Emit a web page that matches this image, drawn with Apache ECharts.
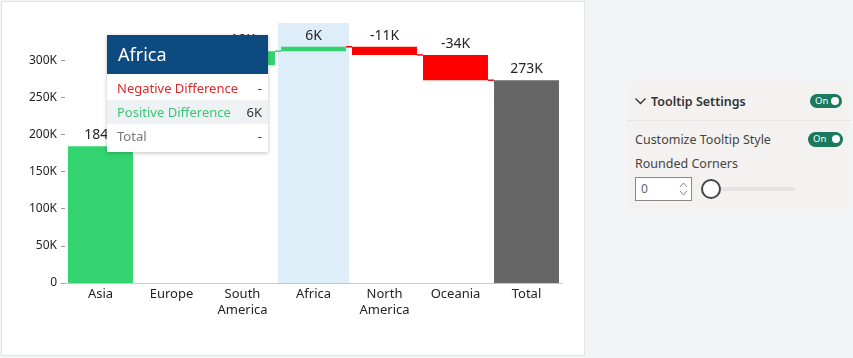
<!DOCTYPE html>
<html><head><meta charset="utf-8">
<script src="https://cdn.jsdelivr.net/npm/echarts@6/dist/echarts.min.js"></script>
<style>
html,body{margin:0;padding:0;width:853px;height:358px;overflow:hidden;background:#f3f4f7;font-family:"Segoe UI","Noto Sans",sans-serif;}
#card{position:absolute;left:1px;top:1px;width:582px;height:353px;background:#fff;border:1px solid #e3e3e3;}
#chart{position:absolute;left:0;top:0;width:582px;height:353px;}
#tip{position:absolute;left:105px;top:33px;width:161px;height:117px;background:#fff;box-shadow:0 1px 4px rgba(0,0,0,0.25);font-size:13px;}
#tip .hd{height:39px;background:#0c4a80;color:#fff;font-size:18px;line-height:39px;padding-left:11px;}
#tip .row{height:24px;line-height:24px;padding:0 6px 0 10px;display:flex;justify-content:space-between;}
#tip .row.alt{background:#eef2f5;}
#panel{position:absolute;left:627px;top:81px;width:223px;height:129px;background:#f3f2f1;font-size:12.5px;color:#333;}
#panel .hdr{height:39px;border-bottom:1px solid #e8e6e4;position:relative;}
.tog{position:absolute;width:32px;height:14px;border-radius:8px;background:#1b7a5e;color:#fff;font-size:9.5px;line-height:14px;padding-left:5px;box-sizing:border-box;}
.tog:after{content:"";position:absolute;right:3px;top:3px;width:8px;height:8px;border-radius:50%;background:#fff;}
</style></head>
<body>
<div id="card"><div id="chart"></div>
<div id="tip">
  <div class="hd">Africa</div>
  <div class="row" style="margin-top:2px"><span style="color:#e0282c">Negative Difference</span><span style="color:#333">-</span></div>
  <div class="row alt"><span style="color:#3cc476">Positive Difference</span><span style="color:#333">6K</span></div>
  <div class="row"><span style="color:#777">Total</span><span style="color:#333">-</span></div>
</div>
</div>
<div id="panel">
  <div class="hdr">
    <svg style="position:absolute;left:8px;top:17px" width="11" height="7" viewBox="0 0 11 7"><polyline points="0.5,0.5 5.5,5.5 10.5,0.5" fill="none" stroke="#333" stroke-width="1.3"/></svg>
    <span style="position:absolute;left:24px;top:12px;font-weight:600;color:#333">Tooltip Settings</span>
    <div class="tog" style="left:183px;top:13px">On</div>
  </div>
  <span style="position:absolute;left:8px;top:50px;color:#444">Customize Tooltip Style</span>
  <div class="tog" style="left:181px;top:51px;width:35px;height:15px">On</div>
  <span style="position:absolute;left:8px;top:74px;color:#444">Rounded Corners</span>
  <div style="position:absolute;left:8px;top:96px;width:57px;height:24px;border:1px solid #8a8886;background:#fff;box-sizing:border-box;font-size:12px;line-height:22px;padding-left:5px;color:#666">0
    <svg style="position:absolute;right:3px;top:3px" width="9" height="16" viewBox="0 0 9 16"><polyline points="1,6 4.5,2 8,6" fill="none" stroke="#888"/><polyline points="1,10 4.5,14 8,10" fill="none" stroke="#888"/></svg>
  </div>
  <div style="position:absolute;left:84px;top:106px;width:84px;height:4px;background:#e6e4e2;border-radius:2px"></div>
  <div style="position:absolute;left:74px;top:98px;width:16px;height:16px;border:2px solid #444;border-radius:50%;background:#fff"></div>
</div>
<script>
var categories = ['Asia','Europe','South\nAmerica','Africa','North\nAmerica','Oceania','Total'];
var deltas = [184000, 109000, 19000, 6000, -11000, -34000, 273000];
var isTotal = [false,false,false,false,false,false,true];
var highlightIndex = 3;
var yTicks = [0,50000,100000,150000,200000,250000,300000];

var starts=[], ends=[], base=[], size=[], colors=[];
var run=0;
for (var i=0;i<deltas.length;i++){
  var s,e;
  if (isTotal[i]) { s=0; e=deltas[i]; run=e; }
  else { s=run; e=run+deltas[i]; run=e; }
  starts.push(s); ends.push(e);
  base.push(Math.min(s,e)); size.push(Math.abs(e-s));
  colors.push(isTotal[i] ? '#666666' : (deltas[i] >= 0 ? '#33d46f' : '#ff0000'));
}
function fmtK(v){ return Math.round(v/1000)+'K'; }

var chart = echarts.init(document.getElementById('chart'));
chart.setOption({
  animation:false,
  textStyle:{fontFamily:'"Segoe UI","Noto Sans",sans-serif'},
  grid:{left:63,right:22,top:21,bottom:72},
  xAxis:{type:'category',data:categories,
    axisLine:{lineStyle:{color:'#c8c8c8'}},axisTick:{show:false},
    axisLabel:{color:'#252423',fontSize:13,lineHeight:16,margin:3,interval:0}},
  yAxis:{type:'value',min:0,max:350000,interval:50000,
    splitLine:{show:false},axisLine:{show:false},
    axisTick:{show:true,length:4,lineStyle:{color:'#999'}},
    axisLabel:{color:'#252423',fontSize:12,margin:8,showMaxLabel:false,
      formatter:function(v){ return yTicks.indexOf(v)<0?'':(v===0?'0':fmtK(v)); }}},
  series:[
    {type:'custom',z:0,silent:true,data:[[highlightIndex]],
      renderItem:function(params,api){
        var w=api.size([1,0])[0];
        var top=api.coord([api.value(0),350000]);
        var bot=api.coord([api.value(0),0]);
        return {type:'rect',shape:{x:top[0]-w/2,y:top[1],width:w,height:bot[1]-top[1]},style:{fill:'#ddeef9'}};
      }},
    {type:'bar',stack:'wf',barCategoryGap:'8.5%',z:2,itemStyle:{color:'transparent'},data:base},
    {type:'bar',stack:'wf',z:2,data:size.map(function(v,i){return {value:v,itemStyle:{color:colors[i]}};}),
      label:{show:true,position:'top',distance:4,fontSize:14,color:'#252423',
        formatter:function(p){ var d=deltas[p.dataIndex]; return (d<0?'-':'')+fmtK(Math.abs(d)); }}},
    {type:'custom',z:3,silent:true,data:ends.slice(0,-1).map(function(v,i){return [i,v];}),
      renderItem:function(params,api){
        var i=api.value(0), v=api.value(1);
        var w=api.size([1,0])[0]*0.915;
        var a=api.coord([i,v]), b=api.coord([i+1,v]);
        var neg = deltas[i]<0 || (deltas[i+1]<0 && !isTotal[i+1]);
        return {type:'line',shape:{x1:a[0]+w/2,y1:a[1],x2:b[0]-w/2,y2:b[1]},
          style:{stroke:neg?'#ff0000':'#33d46f',lineWidth:1.5}};
      }}
  ]
});
</script>
</body></html>
